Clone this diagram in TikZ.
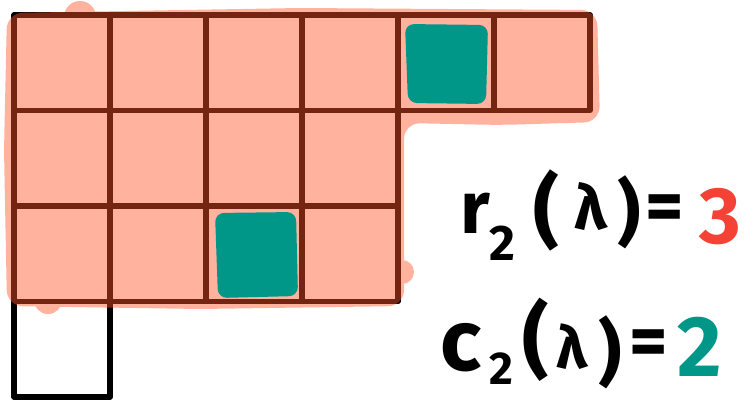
\documentclass[tikz,border=0pt]{standalone}
\usepackage{fontspec}
\newfontfamily\hand{Fira Sans}
\definecolor{salmon}{RGB}{255,84,38}
\definecolor{tealmark}{HTML}{009688}
\definecolor{redmark}{HTML}{F44336}
\tikzset{
  cellbox/.style={draw=black, line width=5.5pt, line join=round},
  markblob/.style={fill=tealmark, rounded corners=9pt},
  glyph/.style={inner sep=0pt, anchor=center, font=\hand\bfseries},
}
\newcommand{\gsize}[1]{\fontsize{#1}{#1}\selectfont}
\begin{document}
\begin{tikzpicture}[x=1pt,y=-1pt]
\useasboundingbox (0,0) rectangle (744,399);
% Young diagram cells
\foreach \i in {0,...,5} \draw[cellbox] ({14+96*\i},15) rectangle ({110+96*\i},110.5);
\foreach \i in {0,...,3} \draw[cellbox] ({14+96*\i},110.5) rectangle ({110+96*\i},206);
\foreach \i in {0,...,3} \draw[cellbox] ({14+96*\i},206) rectangle ({110+96*\i},301.5);
\draw[cellbox] (14,301.5) rectangle (110,397);
% translucent highlighter over rows 1-3
\begin{scope}[transparency group, opacity=0.45]
  \fill[salmon, rounded corners=16pt]
    (7,13) -- (300,8) -- (597,10) -- (600,122) -- (500,125) -- (404,123) -- (404,306) -- (200,309) -- (7,306) -- (4,150) -- cycle;
  \fill[salmon] (80,17) circle (16);
  \fill[salmon] (48,300) circle (14);
  \fill[salmon] (402,272) circle (12);
\end{scope}
% teal marks
\fill[markblob] (405,24) -- (488,25) -- (486,104) -- (408,103) -- cycle;
\fill[markblob] (215,213) -- (296,212) -- (298,296) -- (218,298) -- cycle;
% labels
\node[glyph] (r1) at (475,213) {\gsize{74}r};
\node[glyph] (r2) at (502,243) {\gsize{50}2};
\node[glyph] (r3) at (546,210) {\gsize{80}(};
\node[glyph] (r4) at (591,207) {\gsize{62}λ};
\node[glyph] (r5) at (629,212) {\gsize{72})};
\node[glyph] (r6) at (665,213) {\gsize{74}=};
\node[glyph, text=redmark] (r7) at (720,217) {\gsize{80}3};
\node[glyph] (c1) at (461,348) {\gsize{86}c};
\node[glyph] (c2) at (501,369) {\gsize{46}2};
\node[glyph] (c3) at (536,340) {\gsize{82}(};
\node[glyph] (c4) at (572,347) {\gsize{59}λ};
\node[glyph] (c5) at (610,352) {\gsize{72})};
\node[glyph] (c6) at (649,348) {\gsize{74}=};
\node[glyph, text=tealmark] (c7) at (700,347) {\gsize{86}2};
\end{tikzpicture}
\end{document}
